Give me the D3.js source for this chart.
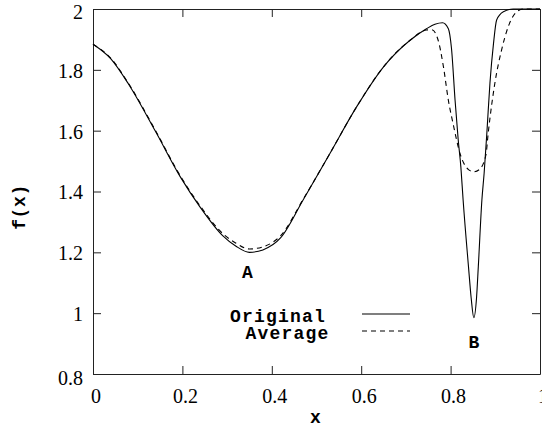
<!DOCTYPE html>
<html>
<head>
<meta charset="utf-8">
<script src="https://cdn.jsdelivr.net/npm/d3@7"></script>
<style>
  body { margin: 0; background: #fff; }
  svg { display: block; }
</style>
</head>
<body>
<div id="chart"></div>
<script>
// values
const xOriginal = [0, 0.04, 0.08, 0.14, 0.195, 0.24, 0.29, 0.32, 0.35, 0.38, 0.42, 0.47, 0.53, 0.59, 0.65, 0.71, 0.746, 0.765, 0.782, 0.795, 0.802, 0.81, 0.817, 0.823, 0.828, 0.84, 0.846, 0.852, 0.858, 0.862, 0.87, 0.875, 0.881, 0.888, 0.896, 0.903, 0.918, 0.94, 1.0];
const yOriginal = [1.884, 1.836, 1.752, 1.597, 1.449, 1.348, 1.255, 1.22, 1.2, 1.208, 1.248, 1.372, 1.525, 1.679, 1.81, 1.898, 1.935, 1.95, 1.955, 1.935, 1.87, 1.70, 1.57, 1.48, 1.372, 1.153, 1.05, 0.985, 1.05, 1.153, 1.372, 1.46, 1.59, 1.756, 1.887, 1.964, 1.991, 2.0, 2.0];

const xAverage = [0, 0.04, 0.08, 0.14, 0.195, 0.24, 0.29, 0.32, 0.35, 0.38, 0.42, 0.47, 0.53, 0.59, 0.65, 0.71, 0.746, 0.758, 0.772, 0.784, 0.795, 0.806, 0.821, 0.84, 0.852, 0.864, 0.879, 0.884, 0.899, 0.914, 0.929, 0.948, 0.963, 1.0];
const yAverage = [1.884, 1.838, 1.754, 1.6, 1.452, 1.352, 1.262, 1.23, 1.211, 1.218, 1.255, 1.374, 1.525, 1.679, 1.81, 1.898, 1.931, 1.932, 1.898, 1.81, 1.70, 1.62, 1.525, 1.472, 1.465, 1.472, 1.52, 1.59, 1.756, 1.865, 1.942, 1.991, 2.0, 2.0];

const xTicks = [0, 0.2, 0.4, 0.6, 0.8, 1];
const yTicks = [0.8, 1, 1.2, 1.4, 1.6, 1.8, 2];

const seriesNames = ["Original", "Average"];

const width = 542, height = 427;
const margin = {left: 93, right: 2, top: 9, bottom: 53};

const svg = d3.select("#chart")
  .append("svg")
    .attr("width", width)
    .attr("height", height);

const xScale = d3.scaleLinear()
  .domain([0, 1])
  .range([margin.left, width - margin.right]);

const yScale = d3.scaleLinear()
  .domain([0.8, 2])
  .range([height - margin.bottom, margin.top]);

const serif = "'Liberation Serif', 'Times New Roman', serif";
const mono = "'Liberation Mono', 'Courier New', monospace";

// axes, ticks pointing inward on all four sides
const styleAxis = g => {
  g.select(".domain").attr("stroke", "#222").attr("stroke-width", 1);
  g.selectAll(".tick line").attr("stroke", "#222").attr("stroke-width", 1);
  g.selectAll(".tick text")
    .attr("fill", "#000")
    .style("font-family", serif)
    .style("font-size", "20px");
};

svg.append("g")
  .attr("transform", `translate(0, ${yScale(0.8)})`)
  .call(d3.axisBottom(xScale).tickValues(xTicks).tickFormat(d3.format("")).tickSizeInner(-8).tickSizeOuter(0).tickPadding(15))
  .call(styleAxis)
  .call(g => g.selectAll(".tick text").attr("dx", 2.5));

svg.append("g")
  .attr("transform", `translate(${xScale(0)}, 0)`)
  .call(d3.axisLeft(yScale).tickValues(yTicks).tickFormat(d3.format("")).tickSizeInner(-8).tickSizeOuter(0).tickPadding(10))
  .call(styleAxis)
  .call(g => g.selectAll(".tick text")
    .attr("y", d => d === 2 ? 3 : d === 0.8 ? 4 : 1));

svg.append("g")
  .attr("transform", `translate(0, ${yScale(2)})`)
  .call(d3.axisTop(xScale).tickValues(xTicks).tickFormat("").tickSizeInner(-8).tickSizeOuter(0))
  .call(styleAxis);

svg.append("g")
  .attr("transform", `translate(${xScale(1)}, 0)`)
  .call(d3.axisRight(yScale).tickValues(yTicks).tickFormat("").tickSizeInner(-8).tickSizeOuter(0))
  .call(styleAxis);

// bold typewriter text for titles, point labels and legend
const labelFont = sel => sel
  .style("font-family", mono)
  .style("font-weight", "bold")
  .style("font-size", "18px")
  .style("letter-spacing", "1.2px");

// axis titles
svg.append("text")
  .attr("x", 316)
  .attr("y", 423)
  .attr("text-anchor", "middle")
  .call(labelFont)
  .text("x");

svg.append("text")
  .attr("transform", "translate(25, 207) rotate(-90)")
  .attr("text-anchor", "middle")
  .call(labelFont)
  .style("letter-spacing", "0.6px")
  .text("f(x)");

// curves
const lineGen = d3.line()
  .x(d => xScale(d[0]))
  .y(d => yScale(d[1]))
  .curve(d3.curveMonotoneX);

const curves = [
  {name: seriesNames[0], pts: d3.zip(xOriginal, yOriginal), dash: null},
  {name: seriesNames[1], pts: d3.zip(xAverage, yAverage), dash: "5,4"}
];

svg.append("g")
  .selectAll("path")
  .data(curves)
  .join("path")
    .attr("d", d => lineGen(d.pts))
    .attr("fill", "none")
    .attr("stroke", "#000")
    .attr("stroke-width", 1.1)
    .attr("stroke-dasharray", d => d.dash);

// point labels
svg.append("text").attr("x", 248).attr("y", 278).attr("text-anchor", "middle").call(labelFont).text("A");
svg.append("text").attr("x", 474.5).attr("y", 348).attr("text-anchor", "middle").call(labelFont).text("B");

// legend
const legend = svg.append("g");
const legendRows = [
  {name: seriesNames[0], textX: 230, textY: 322, lineY: 314, dash: null},
  {name: seriesNames[1], textX: 245.5, textY: 339, lineY: 331, dash: "5,4"}
];
legend.selectAll("text")
  .data(legendRows)
  .join("text")
    .attr("x", d => d.textX)
    .attr("y", d => d.textY)
    .call(labelFont)
    .text(d => d.name);
legend.selectAll("line")
  .data(legendRows)
  .join("line")
    .attr("x1", 362)
    .attr("x2", 410)
    .attr("y1", d => d.lineY)
    .attr("y2", d => d.lineY)
    .attr("stroke", "#000")
    .attr("stroke-width", 1.1)
    .attr("stroke-dasharray", d => d.dash);
</script>
</body>
</html>
